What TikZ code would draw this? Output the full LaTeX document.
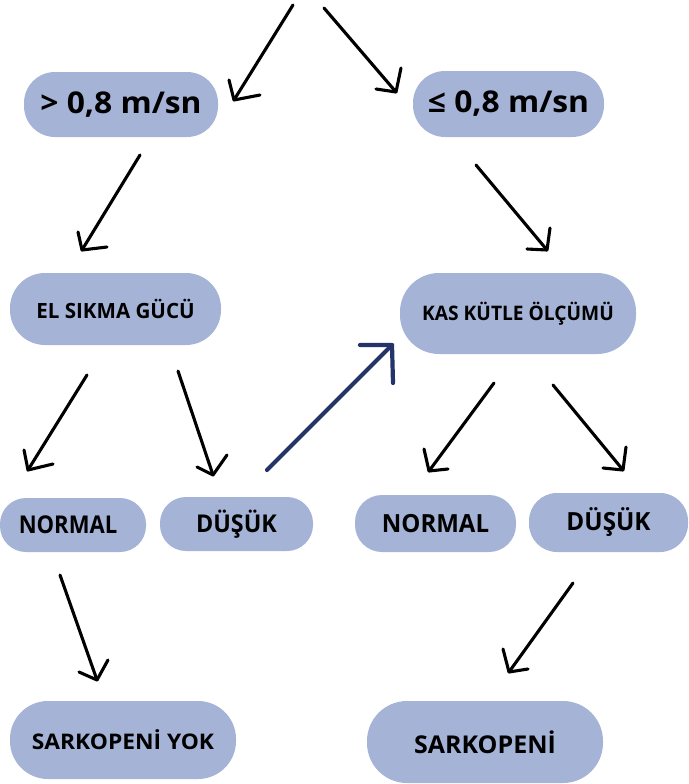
\documentclass[tikz,border=0pt]{standalone}
\usepackage{fontspec}
\setmainfont{Open Sans}
\definecolor{pillc}{RGB}{164,179,214}
\definecolor{navy}{RGB}{36,51,104}
\tikzset{
  pill/.style={fill=pillc, inner sep=0pt, font=\bfseries},
  hand/.style={line width=3.1pt, line cap=round, line join=round, draw=black},
}
\newcommand{\fsz}[2]{\fontsize{#1}{#1}\selectfont\bfseries\addfontfeatures{FakeStretch=#2}}
\newcommand{\handarrow}[5][black]{%
  \draw[hand, draw=#1] (#2) -- (#3);
  \draw[hand, draw=#1] (#4) -- (#3) -- (#5);
}
\begin{document}
\begin{tikzpicture}[x=1pt,y=-1pt]
\useasboundingbox (0,0) rectangle (688,784);
% nodes
\node[pill, minimum width=194pt, minimum height=65pt, rounded corners=31pt, font=\fsz{30}{1.06}] (gt) at (121,104.5) {> 0,8 m/sn};
\node[pill, minimum width=191pt, minimum height=66pt, rounded corners=32pt, font=\fsz{30}{1.06}] (le) at (508.5,104) {≤ 0,8 m/sn};
\node[pill, minimum width=211pt, minimum height=72pt, rounded corners=35pt, font=\fsz{21}{0.98}] (el) at (115.5,309) {EL SIKMA GÜCÜ};
\node[pill, minimum width=236pt, minimum height=81pt, rounded corners=39pt, font=\fsz{20}{0.96}] (kas) at (518,313.5) {KAS KÜTLE ÖLÇÜMÜ};
\node[pill, minimum width=146pt, minimum height=54pt, rounded corners=26pt, font=\fsz{24.5}{0.9}] (nl) at (73,525) {\hspace*{-10pt}NORMAL};
\node[pill, minimum width=153pt, minimum height=54pt, rounded corners=26pt, font=\fsz{24.5}{0.95}] (dl) at (236.5,524) {\raisebox{2pt}{DÜŞÜK}};
\node[pill, minimum width=161pt, minimum height=57pt, rounded corners=27pt, font=\fsz{25}{0.96}] (nr) at (435.5,523.5) {NORMAL};
\node[pill, minimum width=159pt, minimum height=59pt, rounded corners=28pt, font=\fsz{25}{0.97}] (dr) at (608.5,522.5) {\raisebox{3pt}{DÜŞÜK}};
\node[pill, minimum width=226pt, minimum height=78pt, rounded corners=38pt, font=\fsz{21.5}{1.06}] (sy) at (123,740) {SARKOPENİ YOK};
\node[pill, minimum width=236pt, minimum height=82pt, rounded corners=40pt, font=\fsz{24.5}{1.02}] (sp) at (485,742) {SARKOPENİ};
% arrow coordinates
\coordinate (a1s) at (293,5);   \coordinate (a1t) at (234,100); \coordinate (a1b) at (229,80);  \coordinate (a1c) at (260,95);
\coordinate (a2s) at (324,8);   \coordinate (a2t) at (396,92);  \coordinate (a2b) at (401,68);  \coordinate (a2c) at (376,89);
\coordinate (a3s) at (140,155); \coordinate (a3t) at (82,250);  \coordinate (a3b) at (78,232);  \coordinate (a3c) at (107,247);
\coordinate (a4s) at (476,165); \coordinate (a4t) at (547,250); \coordinate (a4b) at (550,228); \coordinate (a4c) at (527,249);
\coordinate (a5s) at (87,375);  \coordinate (a5t) at (28,470);  \coordinate (a5b) at (24,450);  \coordinate (a5c) at (53,464);
\coordinate (a6s) at (178,371); \coordinate (a6t) at (213,475); \coordinate (a6b) at (197,467); \coordinate (a6c) at (227,455);
\coordinate (a8s) at (494,383); \coordinate (a8t) at (429,471); \coordinate (a8b) at (424,449); \coordinate (a8c) at (448,469);
\coordinate (a9s) at (553,385); \coordinate (a9t) at (623,470); \coordinate (a9b) at (626,447); \coordinate (a9c) at (603,468);
\coordinate (a10s) at (60,575); \coordinate (a10t) at (97,680); \coordinate (a10b) at (79,672); \coordinate (a10c) at (108,660);
\coordinate (a11s) at (573,583); \coordinate (a11t) at (509,672); \coordinate (a11b) at (503,649); \coordinate (a11c) at (528,669);
\coordinate (a7s) at (267,470); \coordinate (a7t) at (392,345); \coordinate (a7b) at (360,345); \coordinate (a7c) at (393,383);
\handarrow{a1s}{a1t}{a1b}{a1c}
\handarrow{a2s}{a2t}{a2b}{a2c}
\handarrow{a3s}{a3t}{a3b}{a3c}
\handarrow{a4s}{a4t}{a4b}{a4c}
\handarrow{a5s}{a5t}{a5b}{a5c}
\handarrow{a6s}{a6t}{a6b}{a6c}
\handarrow{a8s}{a8t}{a8b}{a8c}
\handarrow{a9s}{a9t}{a9b}{a9c}
\handarrow{a10s}{a10t}{a10b}{a10c}
\handarrow{a11s}{a11t}{a11b}{a11c}
\tikzset{hand/.append style={line width=4.2pt}}
\handarrow[navy]{a7s}{a7t}{a7b}{a7c}
\end{tikzpicture}
\end{document}
